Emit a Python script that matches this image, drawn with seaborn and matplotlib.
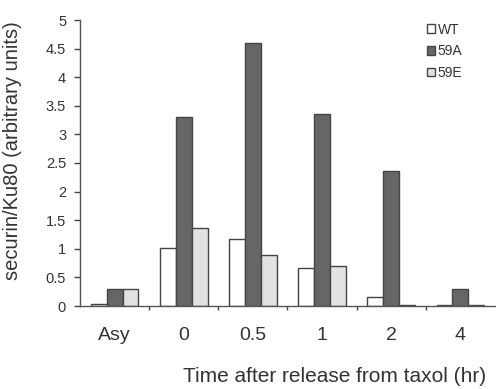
import matplotlib
matplotlib.use("Agg")
import matplotlib.pyplot as plt
import seaborn as sns
import pandas as pd
import numpy as np

categories = ["Asy", "0", "0.5", "1", "2", "4"]
series_names = ["WT", "59A", "59E"]
wt = [0.04, 1.02, 1.17, 0.66, 0.16, 0.01]
a59 = [0.30, 3.31, 4.59, 3.36, 2.36, 0.30]
e59 = [0.30, 1.36, 0.89, 0.70, 0.02, 0.01]
yticks = [0, 0.5, 1, 1.5, 2, 2.5, 3, 3.5, 4, 4.5, 5]
ytick_labels = ["0", "0.5", "1", "1.5", "2", "2.5", "3", "3.5", "4", "4.5", "5"]

rows = []
for name, vals in zip(series_names, [wt, a59, e59]):
    for c, v in zip(categories, vals):
        rows.append({"time": c, "series": name, "value": v})
df = pd.DataFrame(rows)

sns.set_theme(style="white")
plt.rcParams["font.family"] = ["Liberation Sans", "DejaVu Sans"]
txt = "#333333"

fig = plt.figure(figsize=(4.96, 3.89), dpi=100)
ax = fig.add_axes([80 / 496, 1 - 306 / 389, 1 - 81 / 496, (306 - 20) / 389])

palette = {"WT": "#ffffff", "59A": "#666666", "59E": "#e2e2e2"}
sns.barplot(data=df, x="time", y="value", hue="series", order=categories,
            hue_order=series_names, palette=palette, width=0.69,
            edgecolor="#444444", linewidth=1.0, saturation=1, ax=ax,
            errorbar=None)

ax.set_ylim(0, 5)
ax.set_xlim(-0.5, len(categories) - 0.5)
ax.set_yticks(yticks)
ax.set_yticklabels(ytick_labels, fontsize=10.5, color=txt)
ax.set_xticks(range(len(categories)))
ax.set_xticklabels(categories, fontsize=14, color=txt)
ax.set_xticks(np.arange(0.5, len(categories) - 0.5, 1.0), minor=True)
ax.tick_params(axis="x", which="major", length=0, pad=15)
ax.tick_params(axis="x", which="minor", length=3, width=1, color="#444444", direction="out", bottom=True)
ax.tick_params(axis="y", which="major", length=4, width=1, color="#444444", direction="out", left=True, pad=6)

for s in ["top", "right"]:
    ax.spines[s].set_visible(False)
for s in ["left", "bottom"]:
    ax.spines[s].set_color("#555555")
    ax.spines[s].set_linewidth(1.0)

ax.set_ylabel("securin/Ku80 (arbitrary units)", fontsize=14.5, color=txt)
ax.yaxis.set_label_coords(-0.14, 0.545)
ax.set_xlabel("Time after release from taxol (hr)", fontsize=15, color=txt)
ax.xaxis.set_label_coords(0.614, -0.215)

leg = ax.legend(loc="upper left", bbox_to_anchor=(0.815, 1.02), frameon=False,
                fontsize=10, handlelength=0.6, handleheight=0.6, handletextpad=0.2,
                labelspacing=0.55, borderaxespad=0.2)
for t in leg.get_texts():
    t.set_color(txt)

fig.savefig("out.png", dpi=100)
